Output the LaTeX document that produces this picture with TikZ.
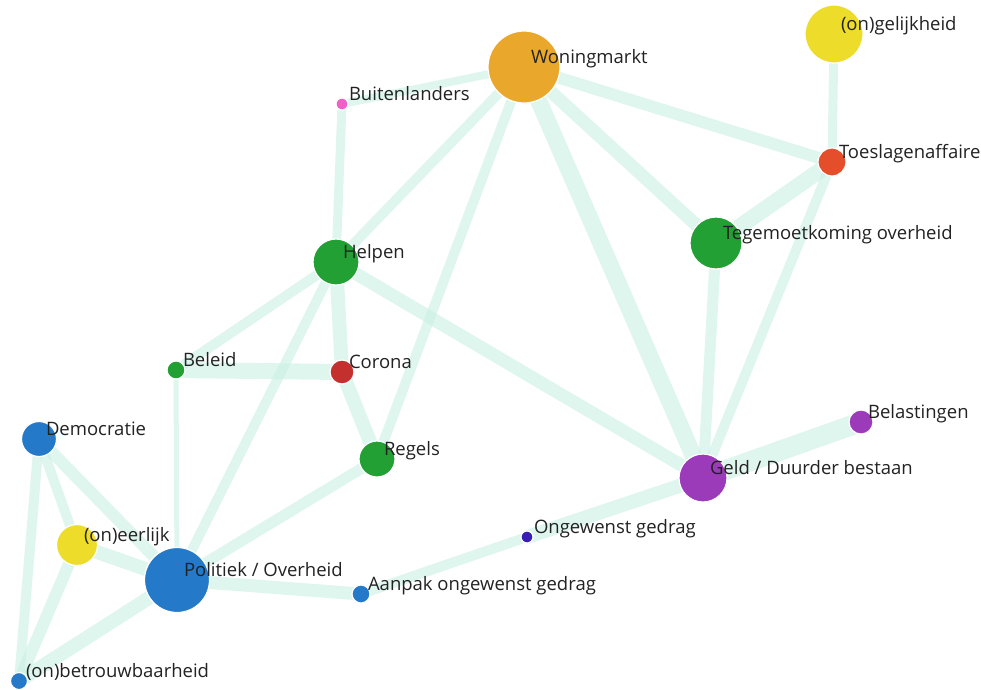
\documentclass[tikz,border=0pt]{standalone}
\usepackage{fontspec}
\setmainfont{Open Sans}
\usetikzlibrary{backgrounds}
\definecolor{linkmint}{HTML}{C9F0E2}
\definecolor{txtgray}{HTML}{222222}
\definecolor{cwon}{HTML}{E9A82B}
\definecolor{cyel}{HTML}{EEDC2A}
\definecolor{cpink}{HTML}{F25FC9}
\definecolor{ctoe}{HTML}{E54E2A}
\definecolor{cgreen}{HTML}{23A033}
\definecolor{ccor}{HTML}{C3302E}
\definecolor{cblue}{HTML}{2479C9}
\definecolor{cpurp}{HTML}{9C3BBA}
\definecolor{cind}{HTML}{3A1FB4}
\begin{document}
\begin{tikzpicture}[x=1pt,y=-1pt,inner sep=0pt,outer sep=0pt,
bub/.style={draw=white,line width=1.2pt,circle,minimum size=#1},
lbl/.style={anchor=base west,text=txtgray,font=\fontsize{18.5}{22}\selectfont},
link/.style={draw=linkmint,draw opacity=0.6,line width=#1}]
\useasboundingbox (0,0) rectangle (981,689);

\draw (524,67) node[bub=72,fill=cwon] (won) {} ++(7,-4) node[lbl] (wonl) {Woningmarkt};
\draw (834,34) node[bub=58,fill=cyel] (gel) {} ++(7,-4) node[lbl] (gell) {(on)gelijkheid};
\draw (342,104) node[bub=12,fill=cpink] (bui) {} ++(7,-4) node[lbl] (buil) {Buitenlanders};
\draw (832,162) node[bub=28,fill=ctoe] (toe) {} ++(7,-4) node[lbl] (toel) {Toeslagenaffaire};
\draw (336,262) node[bub=46,fill=cgreen] (hel) {} ++(7,-4) node[lbl] (hell) {Helpen};
\draw (716,243) node[bub=52,fill=cgreen] (teg) {} ++(7,-4) node[lbl] (tegl) {Tegemoetkoming overheid};
\draw (176,370) node[bub=18,fill=cgreen] (bel) {} ++(7,-4) node[lbl] (bell) {Beleid};
\draw (342,372) node[bub=24,fill=ccor] (cor) {} ++(7,-4) node[lbl] (corl) {Corona};
\draw (39,439) node[bub=35,fill=cblue] (dem) {} ++(7,-4) node[lbl] (deml) {Democratie};
\draw (861,422) node[bub=24,fill=cpurp] (bela) {} ++(7,-4) node[lbl] (belal) {Belastingen};
\draw (377,459) node[bub=36,fill=cgreen] (reg) {} ++(7,-4) node[lbl] (regl) {Regels};
\draw (703,478) node[bub=48,fill=cpurp] (geld) {} ++(7,-4) node[lbl] (geldl) {Geld / Duurder bestaan};
\draw (527,537) node[bub=12,fill=cind] (ong) {} ++(7,-4) node[lbl] (ongl) {Ongewenst gedrag};
\draw (77,545) node[bub=41,fill=cyel] (eer) {} ++(7,-4) node[lbl] (eerl) {(on)eerlijk};
\draw (177,580) node[bub=65,fill=cblue] (pol) {} ++(7,-4) node[lbl] (poll) {Politiek / Overheid};
\draw (361,594) node[bub=18,fill=cblue] (aan) {} ++(7,-4) node[lbl] (aanl) {Aanpak ongewenst gedrag};
\draw (19,681) node[bub=17,fill=cblue] (betr) {} ++(7,-4) node[lbl] (betrl) {(on)betrouwbaarheid};

\begin{scope}[on background layer]
\foreach \a/\b/\w in {won/bui/8,won/hel/10,won/reg/10,won/geld/17,won/teg/13,won/toe/12,
  gel/toe/9,toe/teg/16,toe/geld/10,teg/geld/11,bui/hel/9,hel/bel/10,hel/cor/14,
  hel/pol/10,hel/geld/13,bel/cor/16,bel/pol/5,cor/reg/14,reg/pol/11,bela/geld/20,
  geld/ong/14,ong/aan/10,aan/pol/13,dem/pol/12,dem/eer/10,dem/betr/10,eer/pol/14,
  eer/betr/12,pol/betr/14}
  \draw[link=\w] (\a.center) -- (\b.center);
\end{scope}
\end{tikzpicture}
\end{document}
